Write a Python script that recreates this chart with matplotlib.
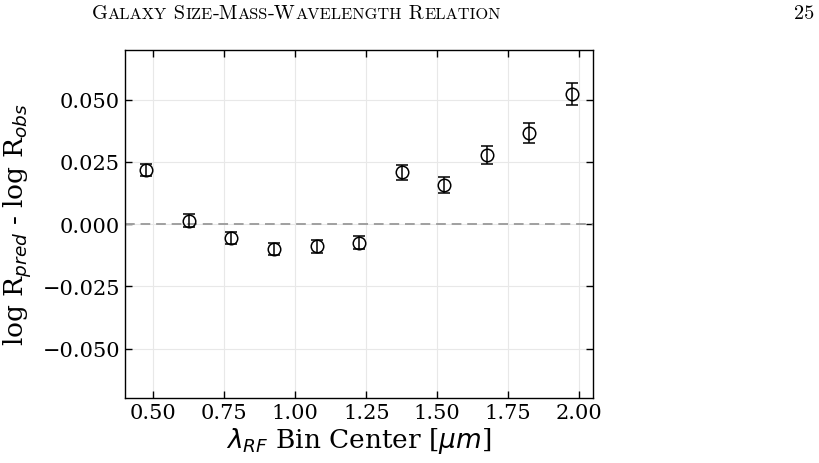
import numpy as np
import matplotlib
matplotlib.use("Agg")
import matplotlib.pyplot as plt

# bin centres and residuals
lam = [0.475, 0.625, 0.775, 0.925, 1.075, 1.225, 1.375, 1.525, 1.675, 1.825, 1.975]
resid = [0.0218, 0.0014, -0.0057, -0.0100, -0.0090, -0.0075, 0.0207, 0.0157, 0.0278, 0.0365, 0.0523]
err = [0.0025, 0.0025, 0.0025, 0.0025, 0.0025, 0.0025, 0.0030, 0.0032, 0.0036, 0.0040, 0.0045]

header = "Galaxy Size-Mass-Wavelength Relation"
page = "25"

plt.rcParams["font.family"] = "DejaVu Serif"
plt.rcParams["mathtext.fontset"] = "dejavusans"

fig = plt.figure(figsize=(8.2, 4.64), dpi=100)
ax = fig.add_axes([0.1524, 0.1394, 0.7236 - 0.1524, 0.8907 - 0.1394])

ax.axhline(0, color="#a0a0a0", ls="--", lw=1.4, dashes=(5, 3), zorder=1)
ax.errorbar(lam, resid, yerr=err, fmt="o", mfc="none", mec="black", color="black",
            ms=9, mew=1.1, elinewidth=1.1, capsize=4, capthick=1.1, zorder=3)

ax.set_xlim(0.4, 2.05)
ax.set_ylim(-0.07, 0.07)
ax.set_xticks([0.5, 0.75, 1.0, 1.25, 1.5, 1.75, 2.0])
ax.set_yticks([-0.05, -0.025, 0.0, 0.025, 0.05])
ax.set_xticklabels(["0.50", "0.75", "1.00", "1.25", "1.50", "1.75", "2.00"])
ax.set_yticklabels(["\u22120.050", "\u22120.025", "0.000", "0.025", "0.050"])
ax.tick_params(direction="in", top=True, right=True, labelsize=15, length=5, width=1)
ax.grid(True, color="#e8e8e8", lw=0.8)
ax.set_axisbelow(True)
for s in ax.spines.values():
    s.set_linewidth(1.0)

ax.set_xlabel(r"$\lambda_{RF}$ Bin Center [$\mu m$]", fontsize=19, labelpad=2)
ax.set_ylabel(r"log R$_{pred}$ - log R$_{obs}$", fontsize=19, labelpad=6)

# running head in small caps (cmr10 ships with matplotlib)
r = fig.canvas.get_renderer()
x = 92 / 820
yb = 1 - 19 / 464
for word_i, word in enumerate(header.split(" ")):
    if word_i:
        word = " " + word
    i = 0
    while i < len(word):
        ch = word[i]
        big = ch.isupper() or ch == "-" or ch == " "
        j = i + 1
        while j < len(word) and (word[j].isupper() or word[j] in "- ") == big:
            j += 1
        chunk = word[i:j] if big else word[i:j].upper()
        t = fig.text(x, yb, chunk, family="cmr10", fontsize=14.7 if big else 11.8,
                     va="baseline", ha="left")
        x = t.get_window_extent(r).x1 / 820
        i = j
fig.text(814 / 820, yb, page, family="cmr10", fontsize=14.7, va="baseline", ha="right")

fig.savefig("out.png", dpi=100)
